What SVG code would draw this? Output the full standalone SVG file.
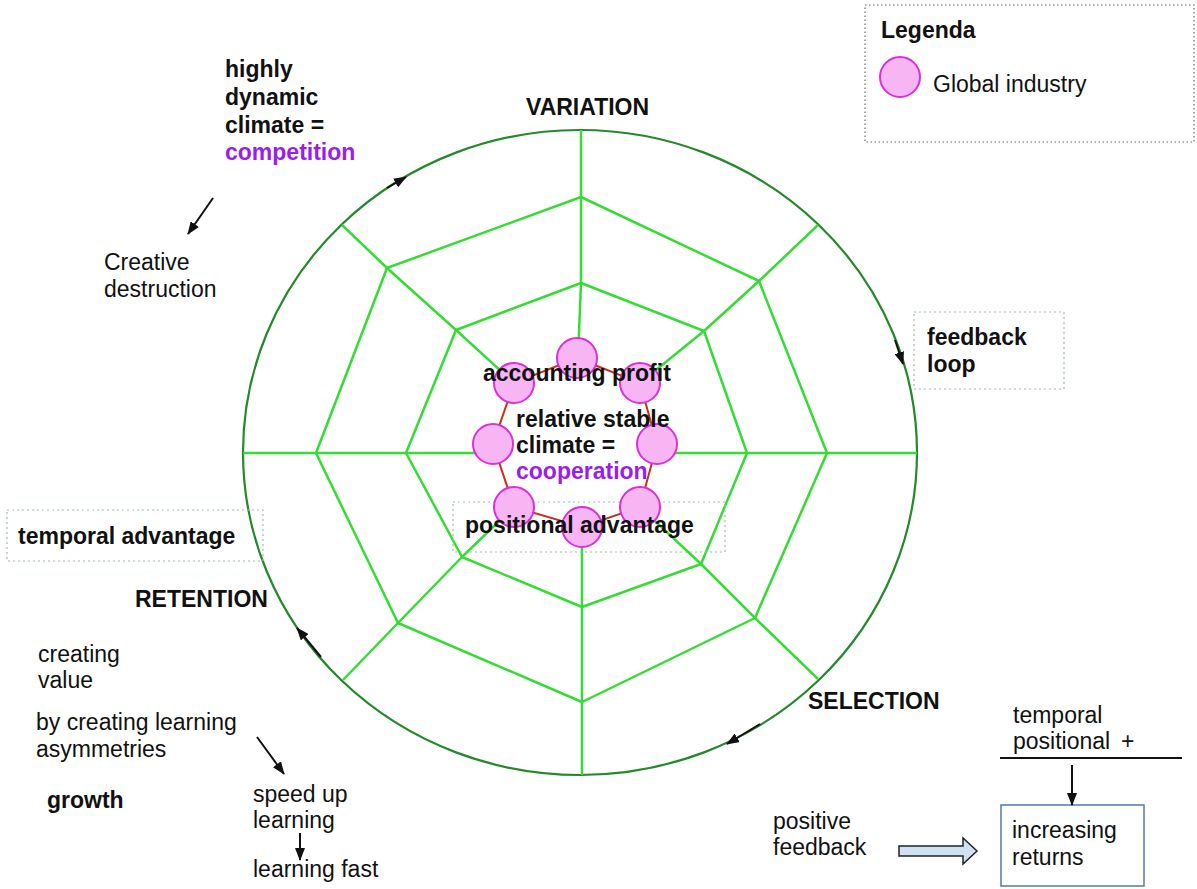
<svg xmlns="http://www.w3.org/2000/svg" width="1197" height="889" viewBox="0 0 1197 889">
  <style>
    text { font-family: "Liberation Sans", Arial, sans-serif; font-size: 23px; fill: #111; }
    .b { font-weight: bold; }
    .purple { fill: #9a1cf0; font-weight: bold; }
    .web { fill: none; stroke: #34dc34; stroke-width: 2.5; stroke-linejoin: round; }
    .rim { fill: none; stroke: #23892a; stroke-width: 2.2; }
    .ring { fill: none; stroke: #c8321a; stroke-width: 2; }
    .firm { fill: #f7b5f3; stroke: #dc2fd8; stroke-width: 2; }
    .note { fill: none; stroke: #9fbf9f; stroke-width: 1.2; stroke-dasharray: 2 3; }
    .legendbox { fill: none; stroke: #666; stroke-width: 1.2; stroke-dasharray: 1.5 2.5; }
    .arrow { fill: none; stroke: #111; stroke-width: 2; marker-end: url(#head); }
  </style>
  <defs>
    <marker id="head" markerUnits="userSpaceOnUse" markerWidth="13" markerHeight="10" refX="12" refY="5" orient="auto">
      <path d="M0,0 L13,5 L0,10 z" fill="#111"/>
    </marker>
  </defs>

  <rect width="1197" height="889" fill="#fff"/>

  <!-- evolutionary wheel: rim, spokes and octagonal rings -->
  <g id="wheel">
    <ellipse class="rim" cx="580" cy="452.5" rx="337" ry="322.5"/>
    <polygon class="web" points="581,197 759,281 827,453 755,618 582,702 398,623 316,453 387,268"/>
    <polygon class="web" points="581,283 704,331 747,453 701,564 582,607 462,557 406,453 456,330"/>
    <polyline class="web" points="581,130 581,197 581,283 578,358"/>
    <polyline class="web" points="818,225 759,281 704,331 640,383"/>
    <polyline class="web" points="917,453 827,453 747,453 660,453"/>
    <polyline class="web" points="818,679 755,618 701,564 640,507"/>
    <polyline class="web" points="582,775 582,702 582,607 582,527"/>
    <polyline class="web" points="343,680 398,623 462,557 514,507"/>
    <polyline class="web" points="243,453 316,453 406,453 490,453"/>
    <polyline class="web" points="342,225 387,268 456,330 514,383"/>
  </g>

  <!-- dotted note frames -->
  <rect id="positional-frame" class="note" x="453" y="502" width="272" height="50"/>
  <g id="temporal-advantage">
    <rect class="note" x="7" y="510" width="256" height="51"/>
    <text class="b" x="18" y="544">temporal advantage</text>
  </g>
  <g id="feedback-loop">
    <rect class="note" x="914" y="312" width="150" height="77"/>
    <text class="b" x="927" y="345">feedback</text>
    <text class="b" x="927" y="372">loop</text>
  </g>

  <!-- global industries around the core -->
  <g id="industries">
    <polygon class="ring" points="577,358 640,383 657,444 640,507 582,527 514,507 493,444 514,383"/>
    <circle class="firm" cx="577" cy="358" r="20"/>
    <circle class="firm" cx="640" cy="383" r="20"/>
    <circle class="firm" cx="657" cy="444" r="20"/>
    <circle class="firm" cx="640" cy="507" r="20"/>
    <circle class="firm" cx="582" cy="527" r="20"/>
    <circle class="firm" cx="514" cy="507" r="20"/>
    <circle class="firm" cx="493" cy="444" r="20"/>
    <circle class="firm" cx="514" cy="383" r="20"/>
  </g>

  <g id="core-labels">
    <text class="b" x="483" y="381">accounting profit</text>
    <text class="b" x="516" y="427">relative stable</text>
    <text class="b" x="516" y="453">climate =</text>
    <text class="purple" x="516" y="479">cooperation</text>
    <text class="b" x="465" y="533">positional advantage</text>
  </g>

  <!-- phase names -->
  <text id="variation" class="b" x="526" y="115">VARIATION</text>
  <text id="selection" class="b" x="808" y="709">SELECTION</text>
  <text id="retention" class="b" x="135" y="607">RETENTION</text>

  <g id="competition">
    <text class="b" x="225" y="77">highly</text>
    <text class="b" x="225" y="105">dynamic</text>
    <text class="b" x="225" y="133">climate =</text>
    <text class="purple" x="225" y="160">competition</text>
  </g>
  <g id="creative-destruction">
    <text x="104" y="270">Creative</text>
    <text x="104" y="297">destruction</text>
  </g>

  <g id="creating-value">
    <text x="38" y="662">creating</text>
    <text x="38" y="688">value</text>
    <text x="36" y="730">by creating learning</text>
    <text x="36" y="757">asymmetries</text>
    <text class="b" x="47" y="808">growth</text>
  </g>
  <g id="speed-up">
    <text x="253" y="802">speed up</text>
    <text x="253" y="828">learning</text>
    <text x="253" y="877">learning fast</text>
  </g>

  <g id="returns-sum">
    <text x="1013" y="723">temporal</text>
    <text x="1013" y="749">positional</text>
    <text x="1121" y="749">+</text>
    <line x1="1000" y1="758" x2="1182" y2="758" stroke="#111" stroke-width="2"/>
  </g>
  <g id="increasing-returns">
    <rect x="1001" y="805" width="143" height="81" fill="#fff" stroke="#4f7bab" stroke-width="1.5"/>
    <text x="1012" y="838">increasing</text>
    <text x="1012" y="865">returns</text>
  </g>
  <g id="positive-feedback">
    <text x="773" y="829">positive</text>
    <text x="773" y="855">feedback</text>
  </g>

  <g id="legend">
    <rect class="legendbox" x="865" y="5" width="329" height="137"/>
    <text class="b" x="881" y="38">Legenda</text>
    <circle class="firm" cx="900" cy="77" r="20"/>
    <text x="933" y="92">Global industry</text>
  </g>

  <!-- connectors -->
  <g id="connectors">
    <path class="arrow" d="M387,188 L406,177"/>
    <path class="arrow" d="M895,340 L903,364"/>
    <path class="arrow" d="M760,724 L727,744"/>
    <path class="arrow" d="M321,657 L297,628"/>
    <path class="arrow" d="M213,198 L188,234"/>
    <path class="arrow" d="M257,737 L284,774"/>
    <path class="arrow" d="M300,833 L300,860"/>
    <path class="arrow" d="M1072,765 L1072,805"/>
    <path d="M899,846 L963,846 L963,838 L977,851 L963,864 L963,856 L899,856 z" fill="#cfe2f3" stroke="#222" stroke-width="1.5"/>
  </g>
</svg>
